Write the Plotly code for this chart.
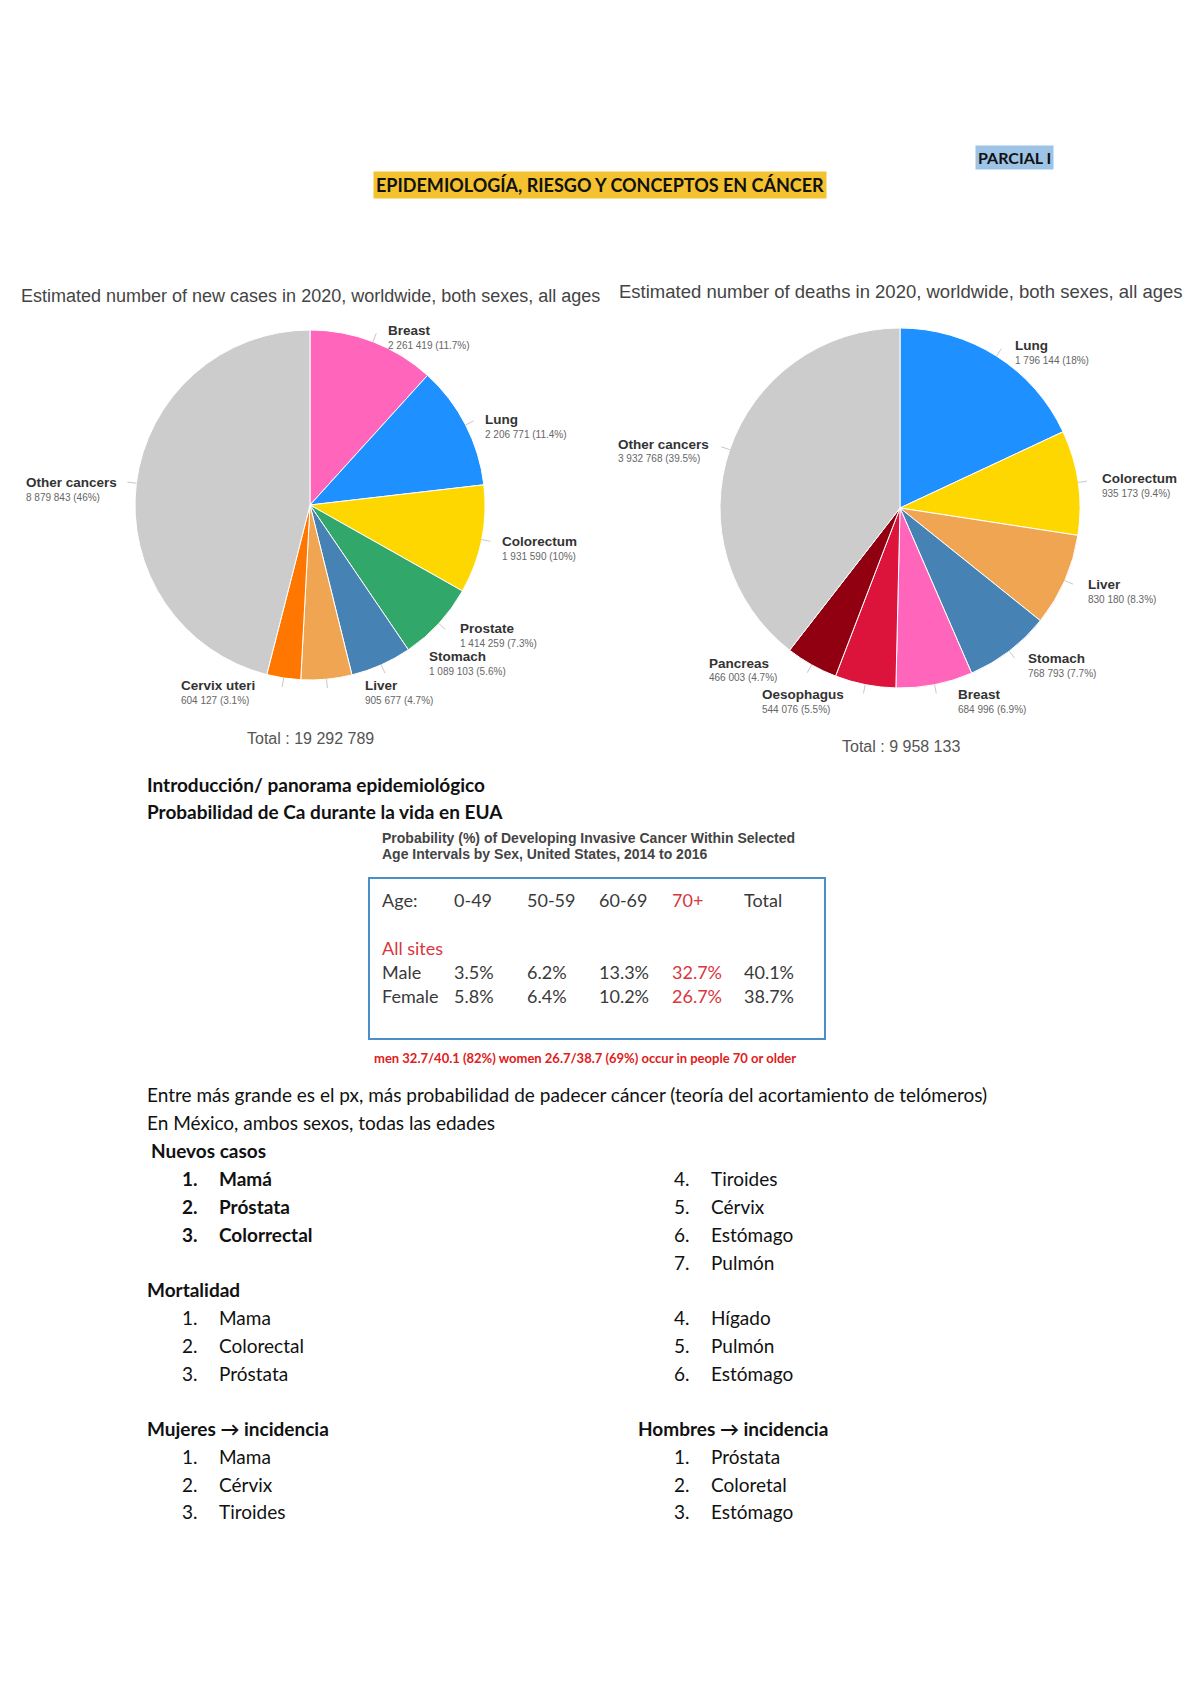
import math
import plotly.graph_objects as go

W, H = 1200, 1694
OFF = 8  # browser default body margin

# ---------------- data ----------------
cases_labels = ["Breast", "Lung", "Colorectum", "Prostate", "Stomach", "Liver", "Cervix uteri", "Other cancers"]
cases_values = [2261419, 2206771, 1931590, 1414259, 1089103, 905677, 604127, 8879843]
cases_colors = ["#ff66bb", "#1e90ff", "#ffd700", "#31a76a", "#4682b4", "#f0a552", "#ff7700", "#cccccc"]

deaths_labels = ["Lung", "Colorectum", "Liver", "Stomach", "Breast", "Oesophagus", "Pancreas", "Other cancers"]
deaths_values = [1796144, 935173, 830180, 768793, 684996, 544076, 466003, 3932768]
deaths_colors = ["#1e90ff", "#ffd700", "#f0a552", "#4682b4", "#ff66bb", "#dc143c", "#900010", "#cccccc"]

age_groups = ["0-49", "50-59", "60-69", "70+", "Total"]
male_prob = [3.5, 6.2, 13.3, 32.7, 40.1]
female_prob = [5.8, 6.4, 10.2, 26.7, 38.7]

nuevos_casos = ["Mamá", "Próstata", "Colorrectal", "Tiroides", "Cérvix", "Estómago", "Pulmón"]
mortalidad = ["Mama", "Colorectal", "Próstata", "Hígado", "Pulmón", "Estómago"]
mujeres_inc = ["Mama", "Cérvix", "Tiroides"]
hombres_inc = ["Próstata", "Coloretal", "Estómago"]

# ---------------- helpers ----------------
def px(x):
    return (x - OFF) / W

def py(y):
    return 1 - (y - OFF) / H

def fmt_num(v):
    return f"{v:,}".replace(",", " ")

def fmt_pct(v, total):
    s = f"{v / total * 100:.1f}"
    if s.endswith(".0"):
        s = s[:-2]
    return s + "%"

def domain(cx, cy, r):
    return dict(x=[px(cx - r), px(cx + r)], y=[py(cy + r), py(cy - r)])

ANN = []
SHAPES = []
DOC = 19

def text(x, y, s, size=DOC, color="#111", family="Lato", xanchor="left", bg=None, bold=False):
    d = dict(x=px(x), y=py(y), xref="paper", yref="paper", text=("<b>%s</b>" % s) if bold else s,
             showarrow=False, xanchor=xanchor, yanchor="middle",
             font=dict(size=size, color=color, family=family))
    if bg:
        d["bgcolor"] = bg
        d["borderpad"] = 2
    ANN.append(d)

fig = go.Figure()

# ---------------- pies ----------------
P1 = (310, 505, 175)
P2 = (900, 508, 180)

fig.add_trace(go.Pie(labels=cases_labels, values=cases_values, sort=False, direction="clockwise",
                     rotation=0, marker=dict(colors=cases_colors, line=dict(color="white", width=1)),
                     textinfo="none", hoverinfo="label+value+percent", domain=domain(*P1),
                     showlegend=False))
fig.add_trace(go.Pie(labels=deaths_labels, values=deaths_values, sort=False, direction="clockwise",
                     rotation=0, marker=dict(colors=deaths_colors, line=dict(color="white", width=1)),
                     textinfo="none", hoverinfo="label+value+percent", domain=domain(*P2),
                     showlegend=False))

cases_pos = [(386, 330), (483, 419), (500, 541), (458, 628), (427, 656), (363, 685), (179, 685), (24, 482)]
deaths_pos = [(1013, 345), (1100, 479), (1086, 584), (1026, 659), (956, 694), (760, 694), (707, 663), (616, 444)]

def pie_labels(labels, values, pos, pie):
    total = sum(values)
    cx, cy, r = pie
    acc = 0
    for lab, v, (x, y) in zip(labels, values, pos):
        mid = (acc + v / 2) / total * 2 * math.pi
        acc += v
        x0, y0 = cx + r * math.sin(mid), cy - r * math.cos(mid)
        x1, y1 = cx + (r + 9) * math.sin(mid), cy - (r + 9) * math.cos(mid)
        SHAPES.append(dict(type="line", xref="paper", yref="paper", x0=px(x0), y0=py(y0), x1=px(x1), y1=py(y1),
                           line=dict(color="#c8c8c8", width=1)))
        text(x, y, lab, size=13.5, color="#333", family="Liberation Sans", bold=True)
        text(x, y + 15, f"{fmt_num(v)} ({fmt_pct(v, total)})", size=10, color="#666", family="Liberation Sans")
    return total

t1 = pie_labels(cases_labels, cases_values, cases_pos, P1)
t2 = pie_labels(deaths_labels, deaths_values, deaths_pos, P2)

text(310, 296, "Estimated number of new cases in 2020, worldwide, both sexes, all ages", size=18,
     color="#444", family="Liberation Sans", xanchor="center")
text(901, 292, "Estimated number of deaths in 2020, worldwide, both sexes, all ages", size=18.5,
     color="#444", family="Liberation Sans", xanchor="center")
text(310, 738, f"Total : {fmt_num(t1)}", size=16, color="#555", family="Liberation Sans", xanchor="center")
text(901, 747, f"Total : {fmt_num(t2)}", size=16, color="#555", family="Liberation Sans", xanchor="center")

# ---------------- header ----------------
text(1014, 157, "PARCIAL I", size=16, color="#111", bold=True, xanchor="center", bg="#9dc3e6")
text(600, 185, "EPIDEMIOLOGÍA, RIESGO Y CONCEPTOS EN CÁNCER", size=18, color="#111", bold=True,
     xanchor="center", bg="#f4c131")

# ---------------- section text ----------------
text(145, 784, "Introducción/ panorama epidemiológico", bold=True)
text(145, 811, "Probabilidad de Ca durante la vida en EUA", bold=True)

text(380, 838, "Probability (%) of Developing Invasive Cancer Within Selected", size=14, color="#444",
     family="Liberation Sans", bold=True)
text(380, 854, "Age Intervals by Sex, United States, 2014 to 2016", size=14, color="#444",
     family="Liberation Sans", bold=True)

SHAPES.append(dict(type="rect", xref="paper", yref="paper", x0=px(369), x1=px(825), y0=py(878), y1=py(1039),
                   line=dict(color="#4a8fc8", width=2)))

RED = "#d9363e"
GREY = "#3a3a3a"
col_x = [452, 525, 597, 670, 742]
text(380, 900, "Age:", size=18, color=GREY)
for i, (g, x) in enumerate(zip(age_groups, col_x)):
    text(x, 900, g, size=18, color=RED if g == "70+" else GREY)
text(380, 948, "All sites", size=18, color=RED)
text(380, 972, "Male", size=18, color=GREY)
text(380, 996, "Female", size=18, color=GREY)
for i, x in enumerate(col_x):
    c = RED if age_groups[i] == "70+" else GREY
    text(x, 972, f"{male_prob[i]}%", size=18, color=c)
    text(x, 996, f"{female_prob[i]}%", size=18, color=c)

men_share = round(male_prob[3] / male_prob[4] * 100)
women_share = round(female_prob[3] / female_prob[4] * 100)
text(372, 1058, f"men {male_prob[3]}/{male_prob[4]} ({men_share}%) women {female_prob[3]}/{female_prob[4]} "
     f"({women_share}%) occur in people 70 or older", size=13, color="#e02020", bold=True)

text(145, 1094, "Entre más grande es el px, más probabilidad de padecer cáncer (teoría del acortamiento de telómeros)")
text(145, 1122, "En México, ambos sexos, todas las edades")

text(149, 1150, "Nuevos casos", bold=True)
left_y = [1178, 1206, 1234, 1262]
for i, item in enumerate(nuevos_casos):
    if i < 3:
        text(180, left_y[i], f"{i + 1}.", bold=True)
        text(217, left_y[i], item, bold=True)
    else:
        text(672, left_y[i - 3], f"{i + 1}.")
        text(709, left_y[i - 3], item)

text(145, 1289, "Mortalidad", bold=True)
mort_y = [1317, 1345, 1373]
for i, item in enumerate(mortalidad):
    if i < 3:
        text(180, mort_y[i], f"{i + 1}.")
        text(217, mort_y[i], item)
    else:
        text(672, mort_y[i - 3], f"{i + 1}.")
        text(709, mort_y[i - 3], item)

text(145, 1428, "Mujeres → incidencia", bold=True)
text(636, 1428, "Hombres → incidencia", bold=True)
inc_y = [1456, 1484, 1511]
for i, item in enumerate(mujeres_inc):
    text(180, inc_y[i], f"{i + 1}.")
    text(217, inc_y[i], item)
for i, item in enumerate(hombres_inc):
    text(672, inc_y[i], f"{i + 1}.")
    text(709, inc_y[i], item)

fig.update_layout(width=W, height=H, margin=dict(l=0, r=0, t=0, b=0),
                  paper_bgcolor="white", plot_bgcolor="white",
                  annotations=ANN, shapes=SHAPES)

fig.write_html("out.html")
